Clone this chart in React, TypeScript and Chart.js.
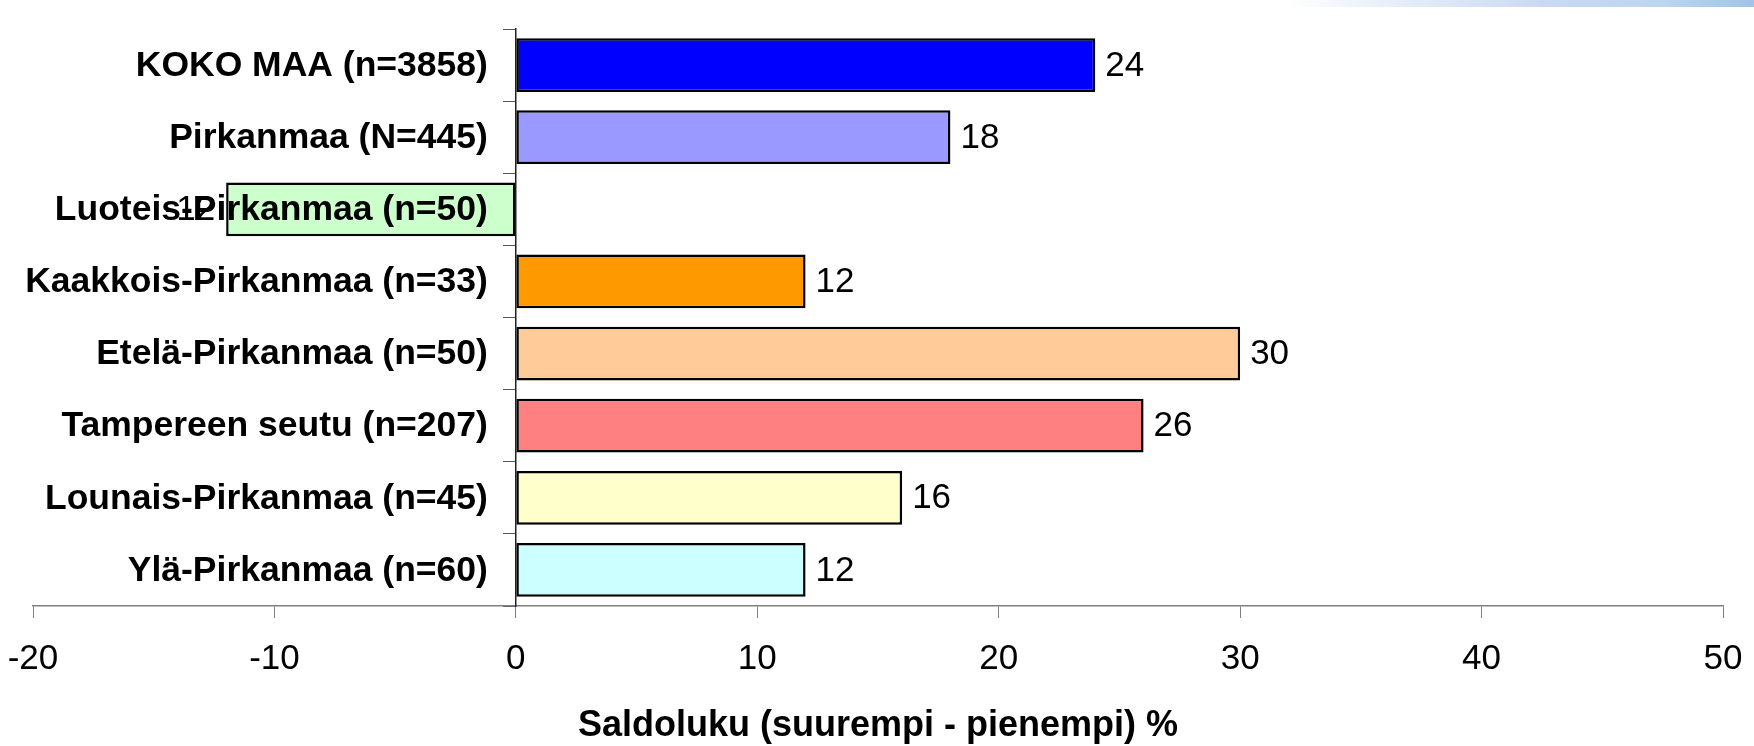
import React, { useEffect, useRef } from "react";
import { Chart, registerables } from "chart.js";

Chart.register(...registerables);

const categories = [
  "KOKO MAA (n=3858)",
  "Pirkanmaa (N=445)",
  "Luoteis-Pirkanmaa (n=50)",
  "Kaakkois-Pirkanmaa (n=33)",
  "Etelä-Pirkanmaa (n=50)",
  "Tampereen seutu (n=207)",
  "Lounais-Pirkanmaa (n=45)",
  "Ylä-Pirkanmaa (n=60)",
];
const saldoValues = [24, 18, -12, 12, 30, 26, 16, 12];
const barColors = ["#0000FF", "#9999FF", "#CCFFCC", "#FF9900", "#FFCC99", "#FF8080", "#FFFFCC", "#CCFFFF"];
const xMin = -20;
const xMax = 50;
const xStep = 10;
const axisTitle = "Saldoluku (suurempi - pienempi) %";

const FONT = '"Liberation Sans", Arial, sans-serif';

// Category labels drawn right-aligned left of the y axis (which sits at x = 0), over the bars
const categoryLabels = {
  id: "categoryLabels",
  afterDatasetsDraw(chart: any) {
    const { ctx, scales } = chart;
    const x0 = scales.x.getPixelForValue(0);
    ctx.save();
    ctx.font = `bold 35.5px ${FONT}`;
    ctx.fillStyle = "#000";
    ctx.textAlign = "right";
    ctx.textBaseline = "middle";
    categories.forEach((c, i) => {
      ctx.fillText(c, x0 - 28, scales.y.getPixelForValue(i) + 1);
    });
    ctx.restore();
  },
};

const valueLabels = {
  id: "valueLabels",
  afterDraw(chart: any) {
    const ctx = chart.ctx;
    const meta = chart.getDatasetMeta(0);
    ctx.save();
    ctx.font = `35px ${FONT}`;
    ctx.fillStyle = "#000";
    ctx.textBaseline = "middle";
    meta.data.forEach((bar: any, i: number) => {
      const v = saldoValues[i];
      const p = bar.getProps(["x", "y"], true);
      if (v >= 0) {
        ctx.textAlign = "left";
        ctx.fillText(String(v), p.x + 10, p.y + 1);
      } else {
        ctx.textAlign = "right";
        ctx.fillText(String(v), p.x - 11, p.y + 1);
      }
    });
    ctx.restore();
  },
};

export default function App() {
  const canvasRef = useRef<HTMLCanvasElement | null>(null);

  useEffect(() => {
    document.body.style.margin = "0";
    const canvas = canvasRef.current!;
    const chart = new Chart(canvas, {
      type: "bar",
      data: {
        labels: categories,
        datasets: [
          {
            data: saldoValues,
            backgroundColor: barColors,
            borderColor: "#000",
            borderWidth: 2.5,
            borderSkipped: false,
            categoryPercentage: 1,
            barPercentage: 0.745,
          },
        ],
      },
      options: {
        indexAxis: "y",
        animation: false,
        responsive: false,
        maintainAspectRatio: false,
        events: [],
        layout: { padding: { left: 33, right: 31, top: 29, bottom: 0 } },
        plugins: {
          legend: { display: false },
          tooltip: { enabled: false },
        },
        scales: {
          x: {
            type: "linear",
            min: xMin,
            max: xMax,
            afterFit: (scale: any) => {
              scale.height = 140;
            },
            ticks: {
              stepSize: xStep,
              font: { family: FONT, size: 35, lineHeight: 2 },
              color: "#000",
              padding: 6,
              maxRotation: 0,
            },
            grid: { drawOnChartArea: false, drawTicks: true, tickLength: 12, color: "#808080" },
            border: { color: "#808080", width: 1.5 },
            title: {
              display: true,
              text: axisTitle,
              font: { family: FONT, size: 36, weight: "bold", lineHeight: 1.1 },
              color: "#000",
              padding: { top: 25, bottom: 0 },
            },
          },
          y: {
            type: "category",
            position: { x: 0 } as any,
            grid: { drawOnChartArea: false, drawTicks: true, tickLength: 12, color: "#555", offset: true },
            border: { color: "#222", width: 1.5 },
            ticks: { display: false },
          },
        },
      },
      plugins: [categoryLabels, valueLabels],
    });
    return () => chart.destroy();
  }, []);

  return (
    <div style={{ position: "relative", width: 1754, height: 746, background: "#fff" }}>
      <div
        style={{
          position: "absolute",
          top: 0,
          left: 1286,
          width: 468,
          height: 7,
          background: "linear-gradient(to right, #ffffff 0%, #e4edf9 25%, #cad9f1 55%, #bcd6ee 80%, #a0c4e8 100%)",
        }}
      />
      <canvas ref={canvasRef} width={1754} height={746} style={{ display: "block" }} />
    </div>
  );
}
